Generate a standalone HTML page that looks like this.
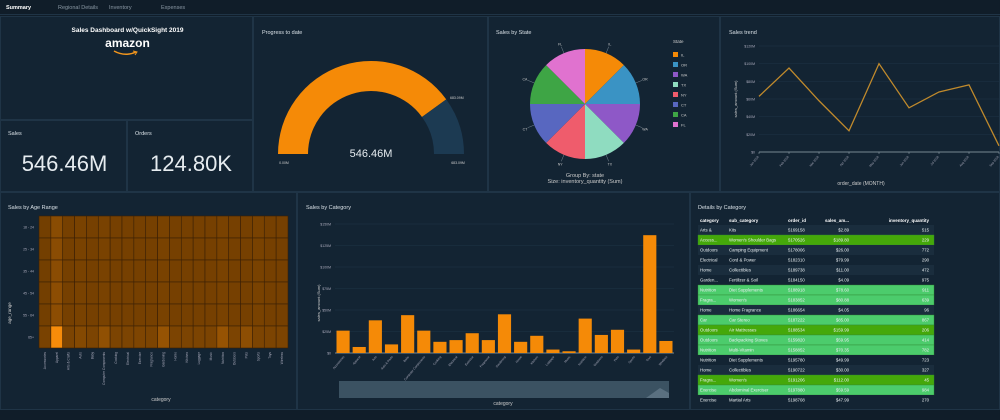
<!DOCTYPE html>
<html><head><meta charset="utf-8">
<style>
*{margin:0;padding:0;box-sizing:border-box}
body{width:1000px;height:420px;background:#101d29;font-family:"Liberation Sans",sans-serif;color:#d8e0e6;overflow:hidden;position:relative}
.panel{position:absolute;background:#132433;border:1px solid #1f3446}
.t{position:absolute;font-size:5.5px;color:#d8e0e6}
.tab{position:absolute;top:5px;font-size:5.5px;color:#8a98a4}
svg text{font-family:"Liberation Sans",sans-serif}
</style></head><body>
<div style="position:absolute;left:0;top:0;width:1000px;height:15px;background:#101d29;border-bottom:1px solid #1f3446"></div>
<div class="tab" style="left:6px;color:#fff;font-weight:bold">Summary</div>
<div class="tab" style="left:58px">Regional Details</div>
<div class="tab" style="left:109px">Inventory</div>
<div class="tab" style="left:161px">Expenses</div>

<div class="panel" style="left:0;top:16px;width:253px;height:104px">
 <div style="position:absolute;left:0;width:253px;top:10px;text-align:center;font-size:6.5px;font-weight:bold;color:#fff">Sales Dashboard w/QuickSight 2019</div>
 <div style="position:absolute;left:0;width:253px;top:19px;text-align:center;font-size:12px;font-weight:bold;color:#fff">amazon</div>
 <svg style="position:absolute;left:110px;top:32px" width="30" height="8"><path d="M3 2 Q14 8 25 3" stroke="#f3961d" stroke-width="1.5" fill="none"/><path d="M22 2 L26 3 L24 6" stroke="#f3961d" stroke-width="1" fill="none"/></svg>
</div>
<div class="panel" style="left:0;top:120px;width:127px;height:72px">
 <div class="t" style="left:7px;top:10px">Sales</div>
 <div style="position:absolute;left:0;width:127px;top:30px;text-align:center;font-size:22px;color:#e6ecf0">546.46M</div>
</div>
<div class="panel" style="left:127px;top:120px;width:126px;height:72px">
 <div class="t" style="left:7px;top:10px">Orders</div>
 <div style="position:absolute;left:0;width:126px;top:30px;text-align:center;font-size:22px;color:#e6ecf0">124.80K</div>
</div>

<div class="panel" style="left:253px;top:16px;width:235px;height:176px">
 <div class="t" style="left:8px;top:13px">Progress to date</div>
 <svg id="gauge" width="235" height="176" style="position:absolute;left:0;top:0"></svg>
</div>
<div class="panel" style="left:488px;top:16px;width:232px;height:176px">
 <div class="t" style="left:7px;top:13px">Sales by State</div>
 <svg id="pie" width="232" height="176" style="position:absolute;left:0;top:0"></svg>
</div>
<div class="panel" style="left:720px;top:16px;width:280px;height:176px">
 <div class="t" style="left:8px;top:13px">Sales trend</div>
 <svg id="trend" width="280" height="176" style="position:absolute;left:0;top:0"></svg>
</div>

<div class="panel" style="left:0;top:192px;width:297px;height:218px">
 <div class="t" style="left:7px;top:12px">Sales by Age Range</div>
 <svg id="heat" width="297" height="218" style="position:absolute;left:0;top:0"></svg>
</div>
<div class="panel" style="left:297px;top:192px;width:393px;height:218px">
 <div class="t" style="left:8px;top:12px">Sales by Category</div>
 <svg id="bar" width="393" height="218" style="position:absolute;left:0;top:0"></svg>
</div>
<div class="panel" style="left:690px;top:192px;width:310px;height:218px">
 <div class="t" style="left:7px;top:12px">Details by Category</div>
 <svg id="tbl" width="310" height="218" style="position:absolute;left:0;top:0"></svg>
</div>

<script>
const NS='http://www.w3.org/2000/svg';
function mk(p,tag,a,txt){const e=document.createElementNS(NS,tag);for(const k in a)e.setAttribute(k,a[k]);if(txt!==undefined)e.textContent=txt;p.appendChild(e);return e;}

// ---- gauge data
const gaugeValue=546.46;
const gaugeMax=683.09;
// ---- pie data
const pieStates=['IL','OR','WA','TX','NY','CT','CA','FL'];
const pieValues=[12.5,12.5,12.5,12.5,12.5,12.5,12.5,12.5];
const pieColors=['#f58a07','#3a93c4','#8e58c7','#8fdcc0','#ef5c6c','#5867c0','#3ea545','#e072cf'];
// ---- trend data
const trendMonths=['Jan 2019','Feb 2019','Mar 2019','Apr 2019','May 2019','Jun 2019','Jul 2019','Aug 2019','Sep 2019'];
const trendValues=[63,95,58,24,100,50,68,76,7];
const trendTicks=[0,20,40,60,80,100,120];
// ---- bar data
const barCats=['Accessories','Apparel','Arts','Auto & Parts','Baby','Computer Components','Cooking','Electrical','Exercise','Fragrance','Gardening','Home','Kitchen','Luggage','Music','Nutrition','Outdoors','Pets','Sports','Toys','Wireless'];
const barValues=[26,7,38,10,44,26,13,15,23,15,45,13,20,4,2,40,21,27,4,137,14];
const barTicks=[0,25,50,75,100,125,150];
// ---- heatmap data
const heatRows=['18 - 24','25 - 34','35 - 44','45 - 54','55 - 64','65+'];
const heatCols=['Accessories','Apparel','Arts & Crafts','Auto','Baby','Computer Components','Cooking','Electrical','Exercise','Fragrance','Gardening','Home','Kitchen','Luggage','Music','Nutrition','Outdoors','Pets','Sports','Toys','Wireless'];
const heatValues=[
[10,25,12,14,12,14,12,12,12,12,14,12,12,12,12,14,12,12,14,12,12],
[10,26,12,14,12,14,12,12,12,12,14,12,12,12,12,14,12,12,14,12,12],
[10,26,12,14,12,14,12,12,12,12,14,12,12,12,12,14,12,12,14,12,12],
[10,27,12,14,12,14,12,12,12,12,14,12,12,12,12,14,12,12,14,12,12],
[10,27,12,14,12,14,12,12,12,12,14,12,12,12,12,14,12,12,14,12,12],
[14,100,16,22,16,30,16,16,18,16,34,16,16,16,16,34,16,28,16,16,16]];
// ---- table data
const tblHead=['category','sub_category','order_id','sales_am...','inventory_quantity'];
const tblRows=[
['Arts &','Kits','5169158','$2.89','515',0],
['Access...','Women\'s Shoulder Bags','5170526','$189.80','229',2],
['Outdoors','Camping Equipment','5178006','$26.00','772',0],
['Electrical','Cord & Power','5182310','$79.99','290',0],
['Home','Collectibles','5189738','$11.00','472',0],
['Garden...','Fertilizer & Soil','5184150','$4.09','975',0],
['Nutrition','Diet Supplements','5188918','$78.60','911',1],
['Fragra...','Women\'s','5183852','$80.88','639',1],
['Home','Home Fragrance','5186654','$4.05','96',0],
['Car','Car Stereo','5187222','$85.00','867',1],
['Outdoors','Air Mattresses','5188534','$159.99','206',2],
['Outdoors','Backpacking Stoves','5159820','$59.95','414',1],
['Nutrition','Multi-Vitamin','5158852','$70.35','782',1],
['Nutrition','Diet Supplements','5195780','$49.99','723',0],
['Home','Collectibles','5190722','$30.00','327',0],
['Fragra...','Women\'s','5191206','$112.00','45',2],
['Exercise','Abdominal Exerciser','5197880','$59.59','984',1],
['Exercise','Martial Arts','5198708','$47.99','270',0]];

// ===== gauge
(function(){
 const g=document.getElementById('gauge');
 const cx=117,cy=137,R=93,r=63;
 function arc(a0,a1,col,nm){
  const p=f=>{const t=Math.PI*(1-f);return [Math.cos(t),-Math.sin(t)];};
  const [x0,y0]=p(a0),[x1,y1]=p(a1);
  const d=`M${cx+R*x0} ${cy+R*y0} A${R} ${R} 0 0 1 ${cx+R*x1} ${cy+R*y1} L${cx+r*x1} ${cy+r*y1} A${r} ${r} 0 0 0 ${cx+r*x0} ${cy+r*y0}Z`;
  const e=mk(g,'path',{d,fill:col});
  
  
 }
 const f=gaugeValue/gaugeMax;
 arc(0,f,'#f58a07','gauge-value-arc');
 arc(f,1,'#1c3a52','gauge-remaining-arc');
 mk(g,'text',{x:cx,y:cy+3,'text-anchor':'middle','font-size':11,fill:'#e6ecf0'},gaugeValue.toFixed(2)+'M');
 mk(g,'text',{x:cx-R+6,y:cy+10,'font-size':3.5,fill:'#ccc','text-anchor':'middle'},'0.00M');
 mk(g,'text',{x:cx+R-6,y:cy+10,'font-size':3.5,fill:'#ccc','text-anchor':'middle'},gaugeMax.toFixed(2)+'M');
 mk(g,'text',{x:cx+R-14,y:82,'font-size':3.5,fill:'#ccc'},gaugeMax.toFixed(2)+'M');
})();

// ===== pie
(function(){
 const g=document.getElementById('pie');
 const cx=96,cy=87,R=55;
 const tot=pieValues.reduce((a,b)=>a+b,0);
 let a=-Math.PI/2;
 pieValues.forEach((v,i)=>{
  const da=v/tot*2*Math.PI,a1=a+da;
  const d=`M${cx} ${cy} L${cx+R*Math.cos(a)} ${cy+R*Math.sin(a)} A${R} ${R} 0 ${da>Math.PI?1:0} 1 ${cx+R*Math.cos(a1)} ${cy+R*Math.sin(a1)}Z`;
  const e=mk(g,'path',{d,fill:pieColors[i]});
  
  
  const m=(a+a1)/2;
  mk(g,'line',{x1:cx+R*Math.cos(m),y1:cy+R*Math.sin(m),x2:cx+(R+7)*Math.cos(m),y2:cy+(R+7)*Math.sin(m),stroke:'#7a8a96','stroke-width':0.5});
  mk(g,'text',{x:cx+(R+10)*Math.cos(m),y:cy+(R+10)*Math.sin(m)+1.5,'font-size':3.5,fill:'#ccc','text-anchor':'middle'},pieStates[i]);
  const ly=38+i*10;
  const lr=mk(g,'rect',{x:184,y:ly-3,width:5,height:5,fill:pieColors[i]});
  
  
  mk(g,'text',{x:192,y:ly+1.5,'font-size':4,fill:'#ccc'},pieStates[i]);
  a=a1;
 });
 mk(g,'text',{x:184,y:26,'font-size':4.5,fill:'#ccc'},'State');
 mk(g,'text',{x:96,y:160,'font-size':5.5,fill:'#ccc','text-anchor':'middle'},'Group By: state');
 mk(g,'text',{x:96,y:166,'font-size':5.5,fill:'#ccc','text-anchor':'middle'},'Size: inventory_quantity (Sum)');
})();

// ===== trend
(function(){
 const g=document.getElementById('trend');
 const x0=38,x1=278,y0=135,y1=29,max=120;
 const X=i=>x0+i*(x1-x0)/(trendMonths.length-1);
 const Y=v=>y0-v/max*(y0-y1);
 trendTicks.forEach(t=>{
  mk(g,'line',{x1:x0,x2:x1,y1:Y(t),y2:Y(t),stroke:t?'#1f3446':'#9aa8b2','stroke-width':t?0.5:0.8});
  mk(g,'text',{x:x0-4,y:Y(t)+1.5,'font-size':3.5,fill:'#aab','text-anchor':'end'},t?'$'+t+'M':'$0');
 });
 let d='';
 trendValues.forEach((v,i)=>{d+=(i?'L':'M')+X(i)+' '+Y(v);});
 const p=mk(g,'path',{d,fill:'none',stroke:'#c08a2c','stroke-width':1.3});
 
 
 trendMonths.forEach((m,i)=>{
  mk(g,'line',{x1:X(i),x2:X(i),y1:y0,y2:y0+2,stroke:'#9aa8b2','stroke-width':0.5});
  mk(g,'text',{x:X(i),y:y0+5,'font-size':3,fill:'#aab','text-anchor':'end',transform:`rotate(-50 ${X(i)} ${y0+5})`},m);
 });
 mk(g,'text',{x:140,y:168,'font-size':5,fill:'#ccc','text-anchor':'middle'},'order_date (MONTH)');
 mk(g,'text',{x:0,y:0,'font-size':4,fill:'#ccc','text-anchor':'middle',transform:'translate(16 82) rotate(-90)'},'sales_amount (Sum)');
})();

// ===== heatmap
(function(){
 const g=document.getElementById('heat');
 const x0=38,x1=287,y0=23,y1=155;
 const cw=(x1-x0)/heatCols.length,ch=(y1-y0)/heatRows.length;
 const lo=[100,54,0],hi=[247,140,10];
 heatRows.forEach((rn,r)=>{
  mk(g,'text',{x:x0-5,y:y0+(r+0.5)*ch+1.5,'font-size':3.5,fill:'#aab','text-anchor':'end'},rn);
  heatCols.forEach((cn,c)=>{
   const t=heatValues[r][c]/100;
   const col=`rgb(${lo.map((l,k)=>Math.round(l+(hi[k]-l)*t)).join(',')})`;
   const e=mk(g,'rect',{x:x0+c*cw,y:y0+r*ch,width:cw,height:ch,fill:col,stroke:'#3a2006','stroke-width':0.6});
   
   
  });
 });
 heatCols.forEach((cn,c)=>{
  const x=x0+(c+0.5)*cw;
  mk(g,'text',{x:x+1,y:y1+4,'font-size':3.2,fill:'#aab','text-anchor':'end',transform:`rotate(-90 ${x+1} ${y1+4})`},cn);
 });
 mk(g,'text',{x:160,y:208,'font-size':5,fill:'#ccc','text-anchor':'middle'},'category');
 mk(g,'text',{x:0,y:0,'font-size':4.5,fill:'#ccc','text-anchor':'middle',transform:'translate(10 120) rotate(-90)'},'age_range');
})();

// ===== bar
(function(){
 const g=document.getElementById('bar');
 const x0=37,x1=376,y0=160,y1=31,max=150;
 const Y=v=>y0-v/max*(y0-y1);
 barTicks.forEach(t=>{
  mk(g,'line',{x1:x0,x2:x1,y1:Y(t),y2:Y(t),stroke:t?'#1f3446':'#9aa8b2','stroke-width':t?0.5:0.8});
  mk(g,'text',{x:x0-4,y:Y(t)+1.5,'font-size':3.5,fill:'#aab','text-anchor':'end'},t?'$'+t+'M':'$0');
 });
 const pw=(x1-x0)/barCats.length;
 barCats.forEach((c,i)=>{
  const x=x0+i*pw+1.5,v=barValues[i];
  const e=mk(g,'rect',{x,y:Y(v),width:pw-3,height:y0-Y(v),fill:'#f58a07'});
  
  
  const lx=x+pw/2;
  mk(g,'text',{x:lx,y:y0+4,'font-size':3,fill:'#aab','text-anchor':'end',transform:`rotate(-50 ${lx} ${y0+4})`},c);
 });
 const s=mk(g,'rect',{x:41,y:188,width:330,height:17,fill:'#3b5262'});
 
 
 mk(g,'path',{d:'M348 205 L362 195 L371 200 L371 205Z',fill:'#5a7080'});
 mk(g,'text',{x:205,y:212,'font-size':5,fill:'#ccc','text-anchor':'middle'},'category');
 mk(g,'text',{x:0,y:0,'font-size':4,fill:'#ccc','text-anchor':'middle',transform:'translate(22 110) rotate(-90)'},'sales_amount (Sum)');
})();

// ===== table
(function(){
 const g=document.getElementById('tbl');
 const xL=7,xR=243,top=24,rh=10;
 const cx=[9,38,97,158,238],anch=['start','start','start','end','end'];
 tblHead.forEach((h,i)=>mk(g,'text',{x:cx[i],y:top+5,'font-size':4.5,fill:'#fff','font-weight':'bold','text-anchor':anch[i]},h));
 const fills=['#172a3a','#4ccc6c','#45a80a'];
 tblRows.forEach((r,j)=>{
  const y=top+8+j*rh;
  const f=r[5]?fills[r[5]]:(j%2?'#132433':'#1a2d3d');
  const e=mk(g,'rect',{x:xL,y,width:xR-xL,height:rh,fill:f,stroke:r[5]?'#2f8a30':'none','stroke-width':0.4});
  
  
  for(let i=0;i<5;i++)mk(g,'text',{x:cx[i],y:y+6.5,'font-size':4.3,fill:'#e8eef0','text-anchor':anch[i]},r[i]);
 });
})();
</script>
</body></html>
